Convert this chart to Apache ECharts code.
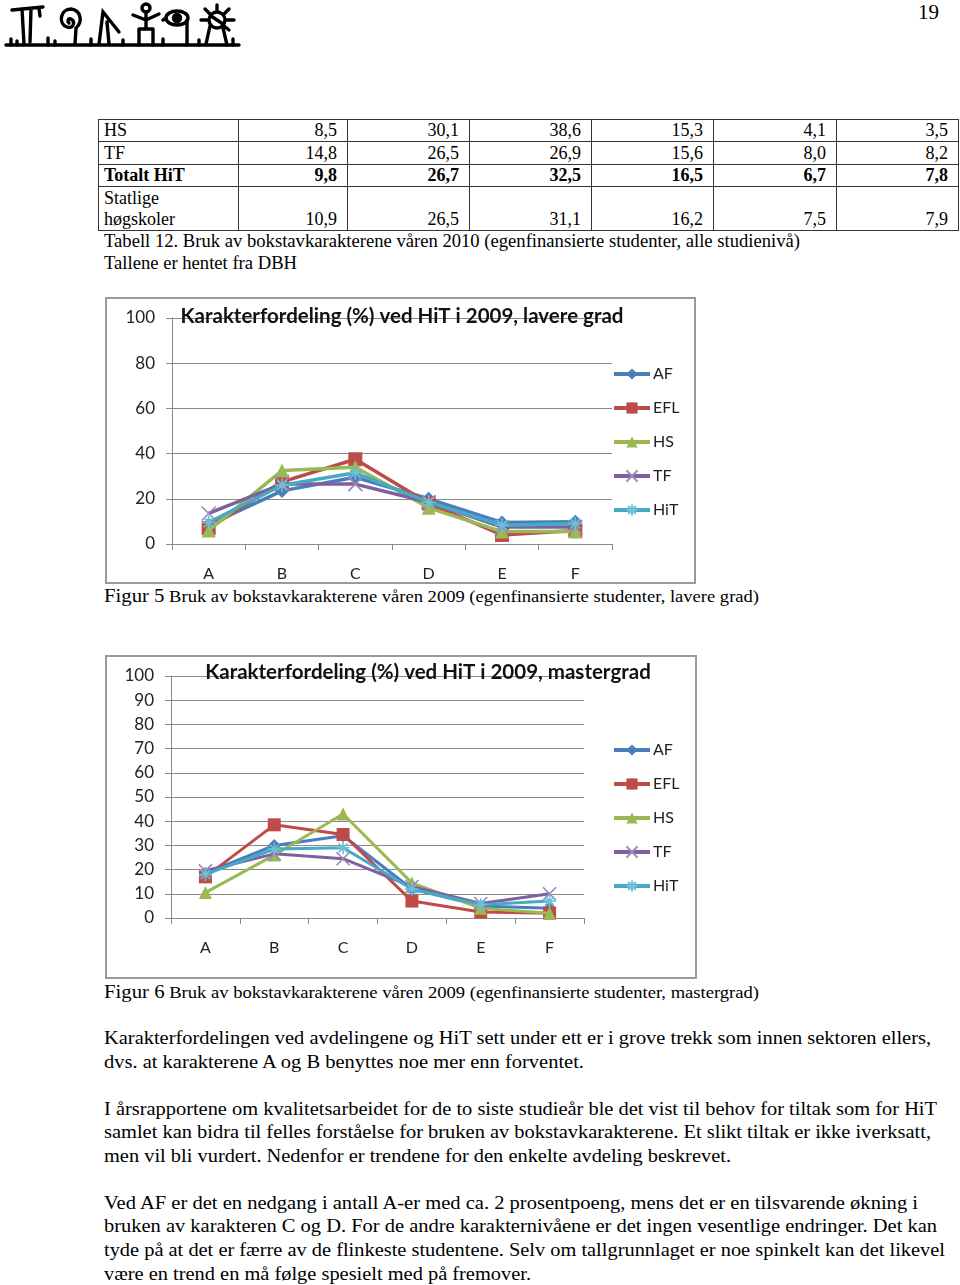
<!DOCTYPE html>
<html>
<head>
<meta charset="utf-8">
<script src="https://cdn.jsdelivr.net/npm/echarts@6/dist/echarts.min.js"></script>
<style>
  html,body{margin:0;padding:0;background:#fff;}
  body{width:960px;height:1285px;position:relative;overflow:hidden;font-family:"Liberation Serif","Times New Roman",serif;color:#000;}
  .fit{position:absolute;left:104px;white-space:nowrap;transform-origin:0 50%;line-height:24px;font-size:19px;}
  .box{position:absolute;border:2px solid #9a9a9a;box-sizing:border-box;background:#fff;}
  table.t{position:absolute;left:98px;top:119px;border-collapse:collapse;table-layout:fixed;width:860px;font-size:18px;}
  table.t td{border:1px solid #333;padding:0 10px 0 5px;line-height:21px;vertical-align:bottom;text-align:right;}
  table.t td:first-child{text-align:left;}
  .pn{position:absolute;left:918px;top:0px;font-size:21px;}
</style>
</head>
<body>
<!-- logo -->
<svg style="position:absolute;left:3px;top:2px" width="240" height="48" viewBox="0 0 240 48">
  <g fill="none" stroke="#000" stroke-width="3.4" stroke-linecap="round">
    <path d="M3,43 L236,43"/>
    <path d="M8,43 L8,37 M14,43 L14,39 M45,43 L45,36 M52,43 L52,39 M88,43 L88,37 M120,43 L120,38 M160,43 L160,37 M196,43 L196,38 M230,43 L230,37"/>
    <path d="M9,8 L40,5 M19,7 L21,42 M28,7 L27,40 M36,6 L37,14"/>
    <path d="M72,42 L73,26 C80,20 78,8 68,7 C57,7 55,22 64,25 C70,27 73,20 68,17 C65,16 64,19 66,21"/>
    <path d="M96,42 L100,10 L116,30 M104,20 L106,42"/>
    <circle cx="143" cy="6" r="4"/>
    <path d="M143,10 L143,26 M130,13 L143,18 L156,12 M136,27 L150,27 M136,27 L136,43 M150,27 L150,43"/>
    <ellipse cx="174" cy="16" rx="11" ry="7"/>
    <circle cx="174" cy="16" r="3.5" fill="#000"/>
    <path d="M184,18 L184,43 M163,16 L160,18"/>
    <circle cx="214" cy="18" r="8"/>
    <path d="M214,3 L214,9 M226,7 L221,12 M231,18 L223,18 M226,28 L221,24 M202,7 L207,12 M198,18 L205,18 M207,24 L203,42 M220,26 L224,43 M208,14 L220,22"/>
  </g>
</svg>
<div class="pn">19</div>

<table class="t" id="tbl">
  <colgroup><col style="width:140px"><col style="width:109px"><col style="width:122px"><col style="width:122px"><col style="width:122px"><col style="width:123px"><col style="width:122px"></colgroup>
  <tbody id="tbody"></tbody>
</table>

<div class="fit" data-w="696" style="top:229px;font-size:18px">Tabell 12. Bruk av bokstavkarakterene våren 2010 (egenfinansierte studenter, alle studienivå)</div>
<div class="fit" data-w="193" style="top:251px;font-size:18px">Tallene er hentet fra DBH</div>

<div class="box" style="left:105px;top:297px;width:591px;height:287px"><div id="c1" style="width:587px;height:283px"></div></div>
<div class="fit" data-w="655" style="top:584px"><span style="font-size:19px">Figur 5</span><span style="font-size:17px"> Bruk av bokstavkarakterene våren 2009 (egenfinansierte studenter, lavere grad)</span></div>

<div class="box" style="left:105px;top:655px;width:592px;height:324px"><div id="c2" style="width:588px;height:320px"></div></div>
<div class="fit" data-w="655" style="top:980px"><span style="font-size:19px">Figur 6</span><span style="font-size:17px"> Bruk av bokstavkarakterene våren 2009 (egenfinansierte studenter, mastergrad)</span></div>

<div class="fit" data-w="827" style="top:1026px">Karakterfordelingen ved avdelingene og HiT sett under ett er i grove trekk som innen sektoren ellers,</div>
<div class="fit" data-w="480" style="top:1050px">dvs. at karakterene A og B benyttes noe mer enn forventet.</div>

<div class="fit" data-w="833" style="top:1097px">I årsrapportene om kvalitetsarbeidet for de to siste studieår ble det vist til behov for tiltak som for HiT</div>
<div class="fit" data-w="827" style="top:1120px">samlet kan bidra til felles forståelse for bruken av bokstavkarakterene. Et slikt tiltak er ikke iverksatt,</div>
<div class="fit" data-w="627" style="top:1144px">men vil bli vurdert. Nedenfor er trendene for den enkelte avdeling beskrevet.</div>

<div class="fit" data-w="814" style="top:1191px">Ved AF er det en nedgang i antall A-er med ca. 2 prosentpoeng, mens det er en tilsvarende økning i</div>
<div class="fit" data-w="833" style="top:1214px">bruken av karakteren C og D. For de andre karakternivåene er det ingen vesentlige endringer. Det kan</div>
<div class="fit" data-w="841" style="top:1238px">tyde på at det er færre av de flinkeste studentene. Selv om tallgrunnlaget er noe spinkelt kan det likevel</div>
<div class="fit" data-w="427" style="top:1262px">være en trend en må følge spesielt med på fremover.</div>

<script>
// ---------- data ----------
const tableLabels = ['HS', 'TF', 'Totalt HiT', 'Statlige<br>høgskoler'];
const tableHS = ['8,5', '30,1', '38,6', '15,3', '4,1', '3,5'];
const tableTF = ['14,8', '26,5', '26,9', '15,6', '8,0', '8,2'];
const tableHiT = ['9,8', '26,7', '32,5', '16,5', '6,7', '7,8'];
const tableStatlige = ['10,9', '26,5', '31,1', '16,2', '7,5', '7,9'];

const categories = ['A', 'B', 'C', 'D', 'E', 'F'];
const seriesNames = ['AF', 'EFL', 'HS', 'TF', 'HiT'];

// Figur 5: lavere grad
const lavAF  = [8.5, 23.5, 29.5, 20, 9.5, 9.8];
const lavEFL = [7, 27.5, 37.5, 18, 4, 6];
const lavHS  = [6, 32.5, 34, 16, 5.5, 5.5];
const lavTF  = [13.5, 26.5, 26.5, 18.5, 7.5, 7.5];
const lavHiT = [9.5, 26, 31.5, 18.5, 8.3, 9];

// Figur 6: mastergrad
const masAF  = [18.5, 30, 34, 12, 5, 4];
const masEFL = [17, 38.5, 34.5, 7, 2.5, 2];
const masHS  = [10.5, 26, 43, 14.5, 4, 2];
const masTF  = [19.5, 26.5, 24.5, 13, 6, 10];
const masHiT = [18, 28.5, 29, 12, 5.5, 7];

const yTicks1 = [0, 20, 40, 60, 80, 100];
const yTicks2 = [0, 10, 20, 30, 40, 50, 60, 70, 80, 90, 100];

// ---------- table ----------
const rows = [tableHS, tableTF, tableHiT, tableStatlige];
const tb = document.getElementById('tbody');
rows.forEach((r, i) => {
  const tr = document.createElement('tr');
  const bold = i === 2;
  tr.style.height = (i === 3 ? 44 : (i === 1 ? 23 : 22)) + 'px';
  let html = '<td' + (bold ? ' style="font-weight:bold"' : '') + '>' + tableLabels[i] + '</td>';
  r.forEach(v => { html += '<td' + (bold ? ' style="font-weight:bold"' : '') + '>' + v + '</td>'; });
  tr.innerHTML = html;
  tb.appendChild(tr);
});

// ---------- text fitting ----------
document.querySelectorAll('.fit').forEach(el => {
  const w = +el.dataset.w;
  const a = el.getBoundingClientRect().width;
  if (a > 0) el.style.transform = 'scaleX(' + (w / a) + ')';
});

// ---------- charts ----------
const colors = ['#4A7EBB', '#BE4B48', '#98B954', '#7D60A0', '#46AAC5'];
const xPath = 'path://M0,0L10,10M10,0L0,10';
const starPath = 'path://M5,0L5,10M0,5L10,5M1.5,1.5L8.5,8.5M8.5,1.5L1.5,8.5';
const symbols = ['diamond', 'rect', 'triangle', xPath, starPath];
const gridColor = '#8a8a8a';
const font = 'Lato, "Open Sans", sans-serif';

function makeOption(cfg) {
  return {
    animation: false,
    color: colors,
    graphic: [{
      type: 'text', x: cfg.titleX, y: cfg.titleY, z: 100,
      style: { text: cfg.title, font: 'bold 20.5px ' + font, fill: '#111', align: 'center', verticalAlign: 'middle' }
    }],
    legend: {
      orient: 'vertical', left: cfg.legendLeft, top: cfg.legendTop,
      itemWidth: 36, itemHeight: 14, itemGap: 18,
      lineStyle: { width: 4 },
      textStyle: { fontSize: 16, color: '#222', fontFamily: font, padding: [0, 0, 0, -2] },
      data: seriesNames
    },
    grid: { left: cfg.grid[0], top: cfg.grid[1], width: cfg.grid[2], height: cfg.grid[3], containLabel: false },
    xAxis: {
      type: 'category', data: categories, boundaryGap: true,
      axisLine: { lineStyle: { color: gridColor, width: 1 } },
      axisTick: { show: true, interval: 0, length: 6, lineStyle: { color: gridColor } },
      axisLabel: { margin: 22, fontSize: 16, color: '#222', fontFamily: font }
    },
    yAxis: {
      type: 'value', min: 0, max: 100, interval: cfg.interval,
      axisLine: { show: true, lineStyle: { color: gridColor, width: 1 } },
      axisTick: { show: true, length: 6, lineStyle: { color: gridColor } },
      splitLine: { lineStyle: { color: gridColor, width: 1 } },
      axisLabel: { margin: 17, fontSize: 17, color: '#222', fontFamily: font,
        formatter: v => cfg.ticks.indexOf(v) >= 0 ? String(v) : '' }
    },
    series: cfg.data.map((d, i) => ({
      name: seriesNames[i], type: 'line', data: d,
      symbol: symbols[i], symbolSize: cfg.symSize, showSymbol: true,
      lineStyle: { width: cfg.lineWidth, color: colors[i] },
      itemStyle: i >= 3 ? { color: colors[i], borderColor: i === 3 ? '#9a86b8' : '#6cc0d8', borderWidth: 1.6 } : { color: colors[i] },
      z: 2 + i
    }))
  };
}

const c1 = echarts.init(document.getElementById('c1'), null, { renderer: 'canvas' });
c1.setOption(makeOption({
  title: 'Karakterfordeling (%) ved HiT i 2009, lavere grad',
  titleX: 295, titleY: 17,
  legendLeft: 500, legendTop: 62,
  grid: [65, 19, 440, 229],
  interval: 20, ticks: yTicks1, lineWidth: 3.5, symSize: 14,
  data: [lavAF, lavEFL, lavHS, lavTF, lavHiT]
}));

const c2 = echarts.init(document.getElementById('c2'), null, { renderer: 'canvas' });
c2.setOption(makeOption({
  title: 'Karakterfordeling (%) ved HiT i 2009, mastergrad',
  titleX: 321, titleY: 15,
  legendLeft: 500, legendTop: 80,
  grid: [64, 19, 413, 242],
  interval: 10, ticks: yTicks2, lineWidth: 3, symSize: 13,
  data: [masAF, masEFL, masHS, masTF, masHiT]
}));
</script>
</body>
</html>
